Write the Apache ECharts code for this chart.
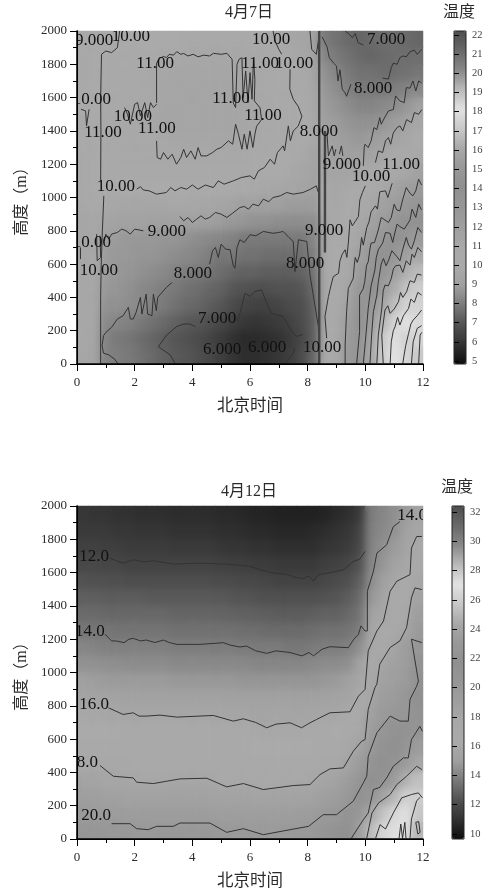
<!DOCTYPE html>
<html>
<head>
<meta charset="utf-8">
<script src="https://cdn.jsdelivr.net/npm/echarts@6/dist/echarts.min.js"></script>
<style>
html, body { margin: 0; padding: 0; background: #fff; }
#main { width: 488px; height: 892px; }
</style>
</head>
<body>
<div id="main"></div>
<script>
// cell centres of the two temperature fields
var hoursGrid = [0.2,0.6,1.0,1.4,1.8,2.2,2.6,3.0,3.4,3.8,4.2,4.6,5.0,5.4,5.8,6.2,6.6,7.0,7.4,7.8,8.2,8.6,9.0,9.4,9.8,10.2,10.6,11.0,11.4,11.8];
var heightsGrid = [1950,1850,1750,1650,1550,1450,1350,1250,1150,1050,950,850,750,650,550,450,350,250,150,50];

// 4月7日
var tempTop = [
[9.8,9.8,10,10,10,10,10,10.2,10.2,10.3,10.3,10.3,10.3,10.3,10.3,10.2,10,9.8,9.6,9.5,9.3,8,7.8,7.6,7.5,7.6,7.7,7.7,7.6,7.5],
[9.8,9.9,10.3,10.3,10.4,10.5,10.6,10.9,11,11.1,11.1,11.1,11.1,11.1,11.1,11,10.8,10.2,9.8,9.6,9.4,8.3,8,7.8,7.6,7.5,7.6,7.7,7.7,7.7],
[9.8,9.9,10.4,10.5,10.6,10.7,10.8,11.1,11.2,11.2,11.2,11.2,11.2,11.2,11.2,11,10.9,10.5,10.1,9.8,9.5,8.6,8.3,8,7.8,7.8,7.7,7.7,7.8,7.9],
[9.9,10,10.5,10.6,10.7,10.8,10.9,11.2,11.3,11.3,11.3,11.3,11.3,11.3,11.2,11,11,10.6,10.3,10,9.6,8.8,8.5,8.2,8,8,8,8.1,8.2,8.4],
[10,10.2,10.6,10.7,10.9,11,11,11.3,11.3,11.3,11.3,11.3,11.3,11.3,11.2,11.1,10.9,10.7,10.4,10.2,9.7,8.9,8.7,8.5,8.3,8.3,8.4,8.5,8.7,9],
[10.3,10.5,10.7,10.8,11,11.1,11.1,11.3,11.3,11.3,11.3,11.3,11.3,11.3,11.2,11,10.8,10.6,10.5,10.2,9.8,9,8.9,8.7,8.6,8.6,8.7,8.9,9.2,9.6],
[10,10.3,10.7,10.8,10.9,11,11,11.1,11.2,11.2,11.2,11.2,11.2,11.2,11.1,11,10.7,10.5,10.4,10.2,9.8,9.2,9,8.9,8.8,8.9,9,9.3,9.6,10],
[9.8,10.1,10.6,10.7,10.8,10.9,10.9,11,11,11,11,11,11,11,10.9,10.7,10.5,10.3,10,9.8,9.4,9.2,9.1,9,9.1,9.3,9.6,10,10.4,10.8],
[9.8,10,10.4,10.4,10.5,10.5,10.6,10.6,10.6,10.7,10.7,10.7,10.6,10.6,10.4,10.3,10.1,10,9.8,9.6,9.3,9.5,9.4,9.4,9.6,9.9,10.3,10.7,11.1,11.6],
[9.8,10,10.1,10,10,10.1,10,10,10,10.1,10,10.1,10,10.1,9.9,9.8,9.7,9.6,9.5,9.4,9.2,9.8,9.6,9.8,10,10.6,11,11.5,12,12.4],
[9.7,9.9,9.7,9.6,9.6,9.6,9.6,9.6,9.7,9.7,9.6,9.6,9.5,9.3,9,9,9,9,8.9,8.9,8.9,9.8,9.7,10,10.5,11.1,11.7,12.2,12.7,13.3],
[9.6,9.7,9.4,9.2,9.2,9.2,9.1,9.1,9.1,9,9,9,8.9,8.8,8.7,8.6,8.6,8.5,8.5,8.5,8.5,9.7,9.8,10.2,10.9,11.6,12.3,13,13.7,14.2],
[9.6,9.7,9,8.9,8.8,8.8,8.8,8.7,8.7,8.6,8.5,8.4,8.3,8.2,8,8,8,8,8,8,8.3,9.7,9.9,10.4,11.3,12.2,13,13.8,14.6,15.2],
[9.6,9.7,8.9,8.8,8.8,8.7,8.7,8.6,8.5,8.4,8.3,8.1,7.9,8,7.8,7.8,7.7,7.7,7.7,7.8,8.1,9.8,10,10.7,11.8,12.8,13.8,14.7,15.5,16],
[9.7,9.7,8.9,8.8,8.7,8.6,8.5,8.4,8.2,8.1,8,7.9,7.7,7.5,7.4,7.4,7.3,7.3,7.3,7.4,7.8,9.8,10.1,11,12.2,13.4,14.5,15.4,16.2,16.6],
[9.7,9.7,8.8,8.7,8.6,8.4,8.3,8.1,8,7.8,7.7,7.5,7.4,7.1,7,6.9,6.9,7,7,7.1,7.6,9.8,10.2,11.3,12.7,14,15.2,16.1,16.8,17.2],
[9.7,9.7,8.6,8.6,8.5,8.4,8.2,8,7.8,7.6,7.5,7.3,7.1,6.8,6.6,6.5,6.5,6.6,6.8,6.9,7.4,9.9,10.4,11.6,13.3,14.7,15.8,16.7,17.4,17.4],
[9.7,9.7,8.4,8.3,8.2,8,7.8,7.6,7.4,7.2,7.1,6.9,6.7,6.4,6.2,6.1,6.2,6.3,6.5,6.8,7.3,9.9,10.6,12,13.9,15.2,16.4,17.4,18,17.6],
[9.7,9.6,8.2,8,7.9,7.7,7.5,7.3,7.1,7,6.8,6.6,6.3,6,5.8,5.8,5.9,6,6.3,6.7,7.3,10,10.8,12.4,14.4,15.7,17,17.9,18.4,17.5],
[9.6,9.5,8.2,8.1,8,7.8,7.6,7.4,7.2,7.1,6.9,6.7,6.4,6.1,5.9,5.9,6,6.2,6.4,6.8,7.5,10,10.9,12.6,14.6,15.9,17.1,18,18.3,17]
];

// 4月12日
var tempBottom = [
[11.5,11.4,11.4,11.3,11.3,11.2,11.2,11.2,11.1,11.1,11.1,11.1,11,11,10.9,10.8,10.8,10.7,10.7,10.7,10.7,10.8,11,11.2,11.6,14,14.3,14.6,15,15.5],
[11.6,11.6,11.6,11.5,11.5,11.4,11.4,11.4,11.3,11.3,11.3,11.3,11.2,11.2,11.1,11,11,10.9,10.9,10.9,11,11.1,11.3,11.5,12,14.1,14.4,14.7,15.3,16],
[11.9,11.9,11.8,11.8,11.7,11.7,11.7,11.7,11.6,11.6,11.6,11.6,11.5,11.4,11.4,11.3,11.3,11.2,11.2,11.2,11.2,11.4,11.5,11.7,12.2,14.2,14.6,15,15.7,16.4],
[12.2,12.2,12.1,12.1,12,12,12,12,12,12,12,12,11.9,11.8,11.8,11.7,11.7,11.6,11.6,11.6,11.6,11.8,11.9,12.1,12.6,14.3,14.8,15.4,16,17],
[12.6,12.5,12.5,12.5,12.4,12.4,12.4,12.4,12.4,12.4,12.4,12.4,12.3,12.3,12.2,12.2,12.1,12,12,12,12,12.2,12.3,12.5,13,14.5,15.2,16,16.5,18],
[13,13,12.9,12.9,12.9,12.9,12.8,12.8,12.8,12.8,12.8,12.8,12.8,12.7,12.7,12.6,12.5,12.5,12.5,12.5,12.5,12.6,12.7,12.9,13.4,14.9,15.6,16.6,17,18.4],
[13.4,13.4,13.3,13.3,13.3,13.3,13.3,13.3,13.2,13.2,13.2,13.2,13.2,13.1,13.1,13,13,12.9,12.9,12.9,13,13.1,13.1,13.3,13.7,15.4,16,17,17.6,19],
[13.8,13.8,13.8,13.7,13.7,13.7,13.7,13.7,13.6,13.6,13.6,13.6,13.6,13.6,13.5,13.5,13.4,13.4,13.4,13.4,13.5,13.6,13.6,13.7,14,15.9,16.9,17.5,18,19.7],
[14.3,14.2,14.1,14.1,14.1,14.1,14.1,14.1,14,14,14,14,14,14,13.9,13.9,13.9,13.9,13.8,13.8,13.9,14,14,14.1,14.6,16.2,17.5,18.2,19.2,20.3],
[14.7,14.7,14.6,14.6,14.5,14.5,14.5,14.5,14.4,14.4,14.4,14.4,14.4,14.4,14.4,14.3,14.3,14.3,14.3,14.3,14.4,14.5,14.5,14.6,15.4,16.9,18.1,18.7,19.3,20.8],
[15.2,15.1,15,15,15,15,15,15,14.9,14.9,14.9,14.9,14.9,14.9,14.8,14.8,14.8,14.8,14.8,14.8,14.8,14.9,15,15.2,15.9,17.6,18.7,19.1,19.5,21.2],
[15.6,15.6,15.5,15.5,15.4,15.4,15.4,15.4,15.4,15.4,15.4,15.4,15.3,15.3,15.3,15.3,15.3,15.3,15.3,15.3,15.3,15.4,15.5,15.7,16.3,18,19.2,19.6,20.2,21.6],
[16.1,16.1,16,16,16,15.9,15.9,15.9,15.9,15.9,15.9,15.9,15.8,15.8,15.8,15.7,15.7,15.8,15.7,15.7,15.8,15.9,16,16.4,17,18.7,19.7,20.2,20.4,21.9],
[16.7,16.6,16.5,16.5,16.4,16.4,16.4,16.4,16.4,16.4,16.4,16.4,16.3,16.3,16.3,16.2,16.1,16.1,16.2,16.2,16.3,16.4,16.6,17,17.6,19.3,20.4,21.2,21.3,22.3],
[17.2,17.1,17,17,17,16.9,16.9,16.9,16.9,16.9,16.9,16.9,16.8,16.8,16.8,16.7,16.7,16.7,16.7,16.7,16.8,17,17.2,17.6,18.4,20,21.2,21.7,22.3,23.3],
[17.8,17.7,17.6,17.5,17.5,17.4,17.4,17.4,17.4,17.4,17.4,17.4,17.3,17.3,17.3,17.2,17.2,17.2,17.2,17.2,17.4,17.6,17.8,18.3,19.4,20.8,21.7,22.1,23.2,24.1],
[18.4,18.3,18.2,18,18,17.9,17.9,17.9,18,18,18,18,17.8,17.8,17.8,17.7,17.7,17.8,17.8,17.8,18,18.2,18.5,19.2,20.5,21.6,22.1,23.2,24.6,25.2],
[19,18.9,18.8,18.7,18.6,18.5,18.5,18.5,18.6,18.6,18.6,18.6,18.4,18.4,18.4,18.3,18.3,18.4,18.4,18.4,18.6,18.9,19.2,20,21.5,22.5,23.8,24.8,26,25.8],
[19.7,19.6,19.5,19.4,19.3,19.2,19.2,19.2,19.3,19.3,19.3,19.3,19.1,19.1,19,19,19,19.1,19.1,19.2,19.4,19.9,20.1,20.9,22.7,24.2,25.3,26.3,26.9,25.5],
[20.3,20.3,20.2,20.1,20,19.9,19.9,20,20,20,20,20,19.8,19.8,19.7,19.7,19.6,19.7,19.8,19.9,20.1,20.5,20.9,21.7,23.5,25,26.2,27,26.7,24.8]
];

// contour lines of 4月7日, [hour, metre]
var top11Loop = [[2.76,1568],[2.76,1807],[2.85,1835],[3.0,1847],[3.1,1840],[3.2,1860],[3.35,1855],[3.46,1876],[3.6,1860],[3.7,1865],[3.85,1850],[4.03,1860],[4.2,1845],[4.4,1855],[4.6,1850],[4.73,1866],[5.0,1860],[5.2,1866],[5.38,1830],[5.42,1568],[5.5,1540],[5.55,1800],[5.62,1830],[5.72,1840],[5.76,1600],[5.85,1760],[5.93,1570],[6.0,1750],[6.07,1590],[6.12,1830],[6.17,1707],[6.15,1580],[6.35,1538],[6.4,1468],[6.23,1428],[6.17,1380],[6.1,1300],[6.0,1400],[5.9,1290],[5.8,1380],[5.72,1290],[5.6,1380],[5.5,1440],[5.4,1320],[5.25,1340],[5.0,1300],[4.85,1290],[4.7,1270],[4.5,1250],[4.3,1250],[4.2,1300],[4.1,1230],[3.95,1280],[3.8,1240],[3.7,1290],[3.6,1240],[3.45,1200],[3.3,1260],[3.15,1230],[3.0,1270],[2.9,1230],[2.78,1240],[2.76,1340]];
var top11Left = [[2.76,1560],[2.65,1540],[2.55,1570],[2.45,1480],[2.35,1570],[2.2,1490],[2.1,1570],[2.0,1560],[1.85,1440],[1.75,1500],[1.65,1540]];
var top10Upper = [[0.82,1100],[0.83,1400],[0.82,1600],[0.85,1860],[1.0,1880],[1.2,1870],[1.4,1900],[1.48,2000]];
var top10Stem = [[0.93,1010],[0.88,800],[0.84,600],[0.82,400],[0.82,0]];
var top8Left = [[1.43,0],[1.3,30],[1.1,55],[0.92,65],[0.87,110],[0.92,170],[1.0,190],[1.2,220],[1.4,270],[1.6,290],[1.78,340],[1.85,270],[1.95,270],[2.05,310],[2.2,400],[2.25,300],[2.4,420],[2.45,300],[2.6,290],[2.65,420],[2.75,320],[2.8,400],[3.1,460],[3.3,490]];
var top8Mid = [[4.6,600],[4.7,680],[4.8,700],[4.9,640],[5.0,720],[5.15,690],[5.31,686],[5.42,590],[5.48,575],[5.55,700],[5.65,746],[5.8,730],[6.0,776],[6.2,770],[6.46,796],[6.8,785],[7.0,790],[7.15,796],[7.35,760],[7.5,736],[7.56,555],[7.68,746],[7.97,736],[8.08,535],[8.37,225],[8.4,0]];
var top9Left = [[0.95,740],[1.0,780],[1.1,750],[1.2,780],[1.4,790],[1.55,810],[1.7,800],[1.85,780],[2.0,810],[2.3,800]];
var top9Mid = [[3.57,886],[3.7,860],[3.85,880],[4.0,850],[4.15,870],[4.3,890],[4.45,870],[4.6,880],[4.8,910],[5.0,900],[5.2,880],[5.4,906],[5.65,940],[5.8,946],[5.95,930],[6.1,960],[6.3,950],[6.46,990],[6.65,975],[6.8,1000],[7.05,1010],[7.27,1030],[7.5,1020],[7.84,1030],[8.1,1050],[8.3,1070],[8.37,1030]];
var top10Mid = [[2.07,1050],[2.2,1065],[2.3,1045],[2.5,1040],[2.76,1020],[3.1,1030],[3.25,1060],[3.4,1040],[3.6,1060],[3.8,1050],[4.0,1075],[4.2,1050],[4.45,1075],[4.73,1060],[4.9,1100],[5.1,1080],[5.42,1100],[5.7,1120],[6.0,1130],[6.15,1110],[6.29,1160],[6.5,1180],[6.7,1230],[6.85,1200],[6.95,1270],[7.15,1310],[7.2,1280],[7.33,1430],[7.4,1340],[7.5,1400],[7.67,1428],[7.8,1488],[7.67,1548],[7.5,1590],[7.38,1650],[7.39,1770]];
var top10Right = [[6.8,2000],[6.87,1940],[7.0,1890],[7.1,1860]];
var top8Ridge = [[8.5,1966],[8.67,1906],[8.75,1840],[8.9,1807],[9.0,1790],[9.05,1700],[9.12,1767],[9.2,1650],[9.3,1628],[9.35,1608],[9.5,1680]];
var top7Edge = [[8.08,2000],[8.14,1890],[8.3,1860],[8.38,1950]];
var top7Right = [[9.3,2000],[9.45,1980],[9.55,1960],[9.65,1985],[9.75,1930],[9.93,1916]];
var top8Right = [[10.6,1717],[10.8,1711],[10.9,1780],[10.97,1807],[11.1,1800],[11.2,1840],[11.3,1850],[11.42,1845],[11.55,1876],[11.7,1885],[11.8,1860],[11.96,1890]];
var top9Right = [[9.93,1190],[9.96,1300],[9.99,1320],[10.1,1300],[10.2,1340],[10.3,1420],[10.4,1408],[10.5,1480],[10.55,1440],[10.7,1490],[10.8,1520],[10.97,1528],[11.05,1610],[11.2,1580],[11.35,1570],[11.42,1660],[11.55,1657],[11.65,1700],[11.75,1640],[11.85,1700],[11.96,1687]];
var top10RightUp = [[10.35,1210],[10.45,1280],[10.6,1270],[10.7,1340],[10.8,1360],[10.88,1320],[10.97,1388],[11.1,1420],[11.2,1430],[11.3,1400],[11.43,1468],[11.6,1450],[11.7,1510],[11.85,1500],[11.96,1528]];
var top10Rise = [[8.66,154],[8.6,285],[8.72,405],[8.82,480],[8.89,525],[9.07,545],[9.12,620],[9.2,660],[9.3,686],[9.36,640],[9.41,726],[9.47,866],[9.55,830],[9.76,886],[9.81,986],[9.9,1030],[10.0,1070]];
var top11Rise = [[9.3,0],[9.3,114],[9.35,314],[9.41,454],[9.58,514],[9.62,600],[9.65,640],[9.72,610],[9.8,655],[9.87,760],[9.93,714],[10.05,820],[10.12,850],[10.2,914],[10.35,950],[10.42,930],[10.5,1034],[10.7,1040],[10.78,1000],[10.93,1085]];
var top12Rise = [[9.7,4],[9.8,194],[9.8,414],[9.92,450],[9.98,494],[10.04,590],[10.1,614],[10.16,690],[10.2,726],[10.32,730],[10.45,805],[10.55,880],[10.68,865],[10.8,850],[10.9,880],[11.0,960],[11.09,925],[11.2,920],[11.3,990],[11.42,1060],[11.55,1025],[11.65,1010],[11.75,1040],[11.85,1110],[11.95,1075]];
var top13Rise = [[9.93,4],[10.0,134],[10.1,334],[10.2,470],[10.33,564],[10.38,640],[10.45,686],[10.6,726],[10.7,790],[10.86,785],[10.95,730],[11.0,770],[11.1,840],[11.2,825],[11.35,810],[11.55,865],[11.62,930],[11.75,880],[11.85,960],[11.95,925]];
var top14Rise = [[10.16,4],[10.22,180],[10.28,314],[10.4,414],[10.45,494],[10.55,600],[10.63,634],[10.72,590],[10.8,620],[10.92,680],[11.1,644],[11.2,620],[11.3,690],[11.42,760],[11.5,714],[11.6,690],[11.7,740],[11.82,820],[11.95,790]];
var top15Rise = [[10.4,4],[10.45,174],[10.57,334],[10.62,440],[10.68,474],[10.8,470],[10.9,514],[10.97,570],[11.05,590],[11.2,594],[11.3,550],[11.42,620],[11.55,594],[11.62,660],[11.7,640],[11.82,700],[11.95,674]];
var top16Rise = [[10.62,4],[10.57,174],[10.68,324],[10.78,350],[10.86,304],[11.0,330],[11.15,374],[11.22,430],[11.3,400],[11.43,434],[11.55,500],[11.7,490],[11.8,540],[11.95,534]];
var top17Rise = [[10.86,4],[10.9,134],[10.97,200],[11.03,224],[11.12,280],[11.2,234],[11.32,290],[11.5,334],[11.58,390],[11.7,370],[11.82,430],[11.95,414]];
var top18Rise = [[11.3,4],[11.35,60],[11.4,110],[11.5,184],[11.58,240],[11.66,264],[11.8,290],[11.95,324]];
var top18Inner = [[11.6,4],[11.66,134],[11.8,214],[11.95,230]];
var top18Edge = [[11.85,4],[11.9,174],[11.96,190]];
var top7Loop = [[3.4,4],[3.23,55],[2.82,104],[3.11,174],[3.46,225],[3.7,240],[3.92,240],[4.1,225]];
var top7Mid = [[5.56,255],[5.65,305],[5.83,425],[6.0,405],[6.17,435],[6.4,445],[6.58,365],[6.75,305],[7.15,285],[7.45,195],[7.62,165],[7.83,178]];
var top7Low = [[7.55,95],[7.5,64],[7.2,4]];
var topSpikes = [[8.67,1388],[8.72,1250],[8.85,1310],[8.92,1250],[8.98,1290]];
var topSpikes2 = [[9.1,1260],[9.17,1310],[9.22,1250]];
var topLeft1 = [[0.14,1530],[0.3,1520],[0.33,1430],[0.42,1530]];
var topLeft2 = [[0.68,780],[0.7,620],[0.82,640],[0.8,770]];
var topLeft3 = [[0.12,700],[0.12,630]];
var topLines = [top11Loop,top11Left,top10Upper,top10Stem,top8Left,top8Mid,top9Left,top9Mid,top10Mid,top10Right,top8Ridge,top7Edge,top7Right,top8Right,top9Right,top10RightUp,top10Rise,top11Rise,top12Rise,top13Rise,top14Rise,top15Rise,top16Rise,top17Rise,top18Rise,top18Inner,top18Edge,top7Loop,top7Mid,top7Low,topSpikes,topSpikes2,topLeft1,topLeft2,topLeft3];
var topHeavy = [[[8.4,0],[8.4,1100],[8.4,2000]],[[8.6,670],[8.6,1000],[8.6,1400]]];

// contour lines of 4月12日
var bottom12 = [[1.14,1686],[1.6,1657],[1.95,1677],[2.3,1665],[2.65,1671],[3.34,1651],[4.27,1657],[5.19,1651],[6.0,1637],[6.35,1617],[6.8,1598],[7.33,1588],[7.6,1570],[7.85,1564],[8.05,1580],[8.2,1548],[8.37,1588],[8.8,1600],[9.24,1617],[9.58,1667],[9.8,1680],[9.99,1727]];
var bottom14 = [[0.97,1230],[1.2,1190],[1.38,1189],[1.63,1179],[1.8,1200],[1.95,1205],[2.2,1190],[2.4,1195],[2.7,1180],[3,1195],[3.2,1180],[3.46,1169],[4.27,1169],[5.08,1179],[5.3,1165],[5.65,1153],[5.88,1159],[6.2,1130],[6.58,1115],[6.9,1130],[7.39,1120],[7.8,1100],[8.05,1120],[8.2,1100],[8.5,1140],[8.77,1155],[9.41,1149],[9.6,1200],[9.76,1229],[9.85,1280],[9.99,1249],[10.07,1250],[10.07,1488],[10.28,1608],[10.4,1717],[10.74,1767],[10.97,1876],[11.2,1906]];
var bottom16 = [[1.09,788],[1.6,748],[1.95,758],[2.15,738],[2.4,738],[2.88,744],[3.46,732],[4.73,742],[5.42,708],[5.77,722],[6.2,700],[6.58,668],[6.9,690],[7.39,698],[7.79,668],[8.05,695],[8.31,718],[8.77,758],[9.47,764],[9.76,858],[9.99,898],[10.1,1130],[10.4,1249],[10.63,1309],[10.86,1488],[11.09,1548],[11.55,1588],[11.6,1747],[11.78,1817],[11.96,1817]];
var bottom18 = [[0.8,441],[1.26,377],[1.95,367],[2.07,341],[2.65,333],[3.11,347],[3.57,361],[4.5,365],[5.19,313],[5.77,333],[6.46,297],[7.5,321],[8.08,327],[8.43,387],[8.77,421],[9.24,427],[9.58,527],[9.87,587],[9.99,597],[10.1,778],[10.33,908],[10.4,930],[10.5,1050],[10.86,1150],[11.2,1190],[11.43,1269],[11.6,1448],[11.72,1508],[11.96,1498]];
var bottom20 = [[1.2,92],[1.84,92],[2.07,62],[2.47,56],[2.76,76],[3.34,76],[3.57,96],[4.61,96],[5.19,40],[5.77,62],[6.46,26],[7.39,56],[8.03,76],[8.54,146],[9.0,146],[9.58,227],[9.93,337],[10.05,377],[10.1,497],[10.4,638],[10.86,738],[11.2,708],[11.49,708],[11.55,838],[11.78,918],[11.84,948],[11.6,1200],[11.96,1179]];
var bottom22 = [[9.52,6],[9.93,116],[10.1,156],[10.28,297],[10.5,310],[10.74,367],[10.97,437],[11.32,487],[11.49,487],[11.6,597],[11.89,677],[11.98,647]];
var bottom24 = [[10.05,6],[10.23,156],[10.46,217],[10.86,267],[11.09,327],[11.43,377],[11.78,437],[11.96,417]];
var bottom26 = [[10.36,6],[10.51,86],[10.7,60],[10.97,156],[11.26,247],[11.6,267],[11.84,277],[11.98,247]];
var bottomSpike = [[11.17,4],[11.23,90],[11.29,4],[11.37,100],[11.41,4]];
var bottomLoop = [[11.75,100],[11.85,105],[11.9,40],[11.82,30],[11.75,100]];
var bottomEdge = [[11.55,6],[11.6,120],[11.78,230],[11.9,250]];
var bottomLines = [bottom12,bottom14,bottom16,bottom18,bottom20,bottom22,bottom24,bottom26,bottomSpike,bottomLoop,bottomEdge];

// inline labels of the contour lines: hour, metre, text
var labelsTop = [[0.59,1940,'9.000'],[1.87,1964,'10.00'],[2.71,1802,'11.00'],[0.52,1586,'10.00'],[1.94,1489,'10.00'],[0.90,1393,'11.00'],[2.77,1417,'11.00'],[5.34,1592,'11.00'],[1.35,1063,'10.00'],[6.73,1946,'10.00'],[6.35,1802,'11.00'],[7.53,1802,'10.00'],[10.72,1946,'7.000'],[10.27,1652,'8.000'],[6.45,1495,'11.00'],[8.39,1399,'8.000'],[9.19,1201,'9.000'],[11.24,1201,'11.00'],[10.2,1123,'10.00'],[0.52,727,'10.00'],[0.76,559,'10.00'],[3.12,793,'9.000'],[4.02,541,'8.000'],[4.86,276,'7.000'],[5.03,84,'6.000'],[6.59,96,'6.000'],[8.5,96,'10.00'],[8.57,799,'9.000'],[7.91,601,'8.000']];
var labelsBottom = [[0.59,1695,'12.0'],[0.45,1245,'14.0'],[0.59,807,'16.0'],[0.21,458,'18.0'],[0.66,140,'20.0'],[11.62,1942,'14.0']];

// gray ramp, evenly spaced from the low end of a colorbar to the high end
var grayRamp = ['#0e0e0e','#323232','#525252','#7a7a7a','#a0a0a0','#aaaaaa','#a8a8a8','#9e9e9e','#969696','#909090','#989898','#a8a8a8','#c8c8c8','#e2e2e2','#bababa','#888888','#686868','#4e4e4e'];

var serifFont = '"Liberation Serif","Noto Sans CJK SC",serif';
var inkColor = '#2b2b2b';
var topLayer = 2; // axes, lines and text sit above the two heatmap layers

function fieldData(rows) {
  var out = [];
  for (var r = 0; r < rows.length; r++) {
    for (var c = 0; c < rows[r].length; c++) {
      out.push([c, r, rows[r][c]]);
    }
  }
  return out;
}

function visibleX(gridIndex) {
  return {
    type: 'value', gridIndex: gridIndex, min: 0, max: 12, interval: 2, z: 10, zlevel: topLayer,
    name: '北京时间', nameLocation: 'middle', nameGap: 34,
    nameTextStyle: { fontFamily: serifFont, fontSize: 16.5, color: inkColor },
    axisLine: { show: true, onZero: false, lineStyle: { color: '#000', width: 1.5 } },
    axisTick: { show: true, length: 7, lineStyle: { color: '#000' } },
    minorTick: { show: true, splitNumber: 2, length: 4, lineStyle: { color: '#000' } },
    axisLabel: { fontFamily: serifFont, fontSize: 13, color: inkColor, margin: 12 },
    splitLine: { show: false }, minorSplitLine: { show: false }
  };
}
function visibleY(gridIndex) {
  return {
    type: 'value', gridIndex: gridIndex, min: 0, max: 2000, interval: 200, z: 10, zlevel: topLayer,
    name: '高度（m）', nameLocation: 'middle', nameGap: 45, nameRotate: 90,
    nameTextStyle: { fontFamily: serifFont, fontSize: 16, color: inkColor },
    axisLine: { show: true, onZero: false, lineStyle: { color: '#000', width: 1.5 } },
    axisTick: { show: true, length: 7, lineStyle: { color: '#000' } },
    minorTick: { show: true, splitNumber: 2, length: 4, lineStyle: { color: '#000' } },
    axisLabel: { fontFamily: serifFont, fontSize: 13, color: inkColor, margin: 10, formatter: function (v) { return String(v); } },
    splitLine: { show: false }, minorSplitLine: { show: false }
  };
}
// hidden category axes only carry the heatmap, they also give the top and right spines
function cellX(gridIndex) {
  return {
    type: 'category', gridIndex: gridIndex, data: hoursGrid, position: 'top', z: 10, zlevel: topLayer,
    axisLine: { show: true, lineStyle: { color: '#000', width: 1 } },
    axisTick: { show: false }, axisLabel: { show: false }, splitLine: { show: false }
  };
}
function cellY(gridIndex) {
  return {
    type: 'category', gridIndex: gridIndex, data: heightsGrid, position: 'right', inverse: true, z: 10, zlevel: topLayer,
    axisLine: { show: true, lineStyle: { color: '#000', width: 1 } },
    axisTick: { show: false }, axisLabel: { show: false }, splitLine: { show: false }
  };
}
function barX(gridIndex) {
  return { type: 'value', gridIndex: gridIndex, show: false, min: 0, max: 1 };
}
function barY(gridIndex, min, max, interval) {
  return {
    type: 'value', gridIndex: gridIndex, position: 'right', min: min, max: max, interval: interval, z: 10, zlevel: topLayer,
    axisLine: { show: false },
    axisTick: { show: true, length: 5, lineStyle: { color: '#000' } },
    axisLabel: { fontFamily: serifFont, fontSize: 10.5, color: '#444', margin: 6 },
    splitLine: { show: false }
  };
}

function contourSeries(lines, axisIndex, width, color) {
  var out = [];
  for (var i = 0; i < lines.length; i++) {
    out.push({
      type: 'line', xAxisIndex: axisIndex, yAxisIndex: axisIndex, data: lines[i], z: 3, zlevel: topLayer,
      showSymbol: false, symbol: 'none', silent: true, clip: true, animation: false,
      lineStyle: { color: color, width: width }
    });
  }
  return out;
}
function labelSeries(list, axisIndex) {
  return {
    type: 'custom', xAxisIndex: axisIndex, yAxisIndex: axisIndex, z: 4, zlevel: topLayer, clip: true, silent: true, animation: false,
    data: list.map(function (d) { return [d[0], d[1]]; }),
    renderItem: function (params, api) {
      var p = api.coord([api.value(0), api.value(1)]);
      return {
        type: 'text',
        style: {
          text: list[params.dataIndex][2], x: p[0], y: p[1], align: 'center', verticalAlign: 'middle',
          fontFamily: serifFont, fontSize: 17, fill: '#111'
        }
      };
    }
  };
}
function titleItem(text, left, top) {
  return { text: text, left: left, top: top, textAlign: 'center', padding: 0, zlevel: topLayer, textStyle: { fontFamily: serifFont, fontSize: 16, fontWeight: 'normal', color: inkColor } };
}
function heatSeries(axisIndex, rows, layer) {
  return { type: 'heatmap', xAxisIndex: axisIndex, yAxisIndex: axisIndex, data: fieldData(rows), progressive: 0, silent: true, animation: false, z: 2, zlevel: layer };
}

// series 0,1 sharp cells, series 2,3 same cells on a layer softened below
var series = [heatSeries(2, tempTop, 0), heatSeries(3, tempBottom, 0), heatSeries(2, tempTop, 1), heatSeries(3, tempBottom, 1)];
series = series.concat(contourSeries(topLines, 0, 1, '#333'));
series = series.concat(contourSeries(topHeavy, 0, 2.4, '#444'));
series = series.concat(contourSeries(bottomLines, 1, 1, '#333'));
series.push(labelSeries(labelsTop, 0));
series.push(labelSeries(labelsBottom, 1));

var chart = echarts.init(document.getElementById('main'), null, { renderer: 'canvas' });
chart.setOption({
  animation: false,
  backgroundColor: '#fff',
  title: [titleItem('4月7日', 249, 5), titleItem('温度', 459, 5), titleItem('4月12日', 249, 484), titleItem('温度', 457, 480)],
  grid: [
    { left: 77, top: 31, width: 346, height: 333 },
    { left: 77, top: 506, width: 346, height: 333 },
    { left: 454, top: 35, width: 12, height: 326 },
    { left: 452, top: 512, width: 12, height: 322 }
  ],
  xAxis: [visibleX(0), visibleX(1), cellX(0), cellX(1), barX(2), barX(3)],
  yAxis: [visibleY(0), visibleY(1), cellY(0), cellY(1), barY(2, 5, 22, 1), barY(3, 10, 32, 2)],
  visualMap: [
    { type: 'continuous', seriesIndex: [0, 2], min: 5, max: 22, left: 454, top: 31, itemWidth: 12, itemHeight: 333, padding: 0, calculable: false, showLabel: false, text: null, hoverLink: false, zlevel: topLayer, inRange: { color: grayRamp } },
    { type: 'continuous', seriesIndex: [1, 3], min: 10, max: 32, left: 452, top: 506, itemWidth: 12, itemHeight: 333, padding: 0, calculable: false, showLabel: false, text: null, hoverLink: false, zlevel: topLayer, inRange: { color: grayRamp } }
  ],
  graphic: [
    { type: 'rect', z: 20, zlevel: topLayer, shape: { x: 454, y: 31, width: 12, height: 333 }, style: { fill: null, stroke: '#222', lineWidth: 1 } },
    { type: 'rect', z: 20, zlevel: topLayer, shape: { x: 452, y: 506, width: 12, height: 333 }, style: { fill: null, stroke: '#222', lineWidth: 1 } }
  ],
  series: series
});

// the reference field is a smooth contourf: soften the second heatmap layer, kept inside the two plot boxes
var softLayer = chart.getZr().painter.getLayer(1).dom;
softLayer.style.filter = 'blur(4px)';
softLayer.style.clipPath = "path('M77 31h346v333h-346z M77 506h346v333h-346z')";
</script>
</body>
</html>
